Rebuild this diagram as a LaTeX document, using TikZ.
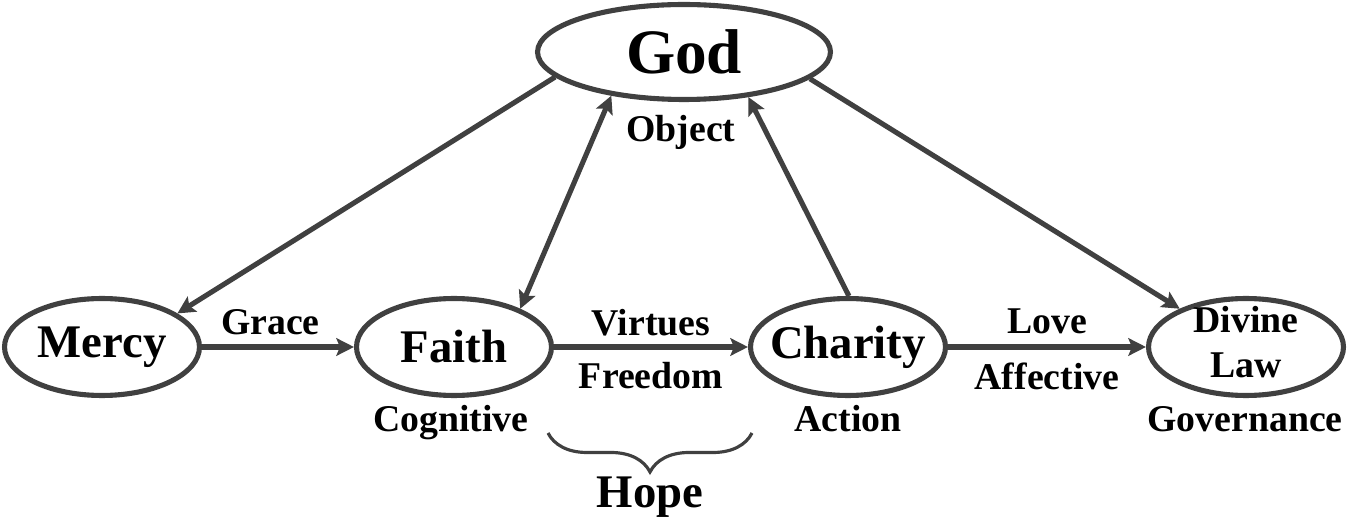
\documentclass[tikz,border=0pt]{standalone}
\usepackage{fontspec}
\setmainfont{Liberation Serif}
\usepackage{tikz}
\usetikzlibrary{shapes.geometric, arrows.meta, decorations.pathreplacing}
\definecolor{linegray}{HTML}{404040}
\tikzset{>={Stealth[length=10pt, width=10pt, inset=2pt]},
    oval/.style={draw=linegray, ellipse, line width=2.9pt, minimum width=3.9cm, minimum height=1.94cm, inner sep=0pt},
    big/.style={font=\fontsize{26.6}{27.8}\selectfont\bfseries},
    small/.style={font=\fontsize{21.5}{26}\selectfont\bfseries},
    conn/.style={draw=linegray, line width=2.9pt, ->},
    hopebrace/.style={draw=linegray, line width=1.8pt, decorate, decoration={brace, amplitude=0.78cm}}}

\begin{document}
\begin{tikzpicture}[x=0.02cm, y=-0.02cm]
    \useasboundingbox (0,0) rectangle (1348,526);
    % the five virtues
    \node[oval, minimum width=5.86cm, minimum height=1.9cm,
        label={[big, font=\fontsize{36}{38}\selectfont\bfseries]center:God}] (god) at (684,52) {};
    \node[oval, label={[big]center:Mercy}] (mercy) at (102,347) {};
    \node[oval, label={[big]center:Faith}] (faith) at (454,347) {};
    \node[oval, label={[big]center:Charity}] (charity) at (848,347) {};
    \node[oval, label={[small, align=center, yshift=2.8pt]center:Divine\\Law}] (law) at (1246,347) {};
    % labels under the ovals
    \node[small, anchor=base] (object) at (681,142) {Object};
    \node[small, anchor=base] (cognitive) at (451,432) {Cognitive};
    \node[small, anchor=base] (action) at (848,432) {Action};
    \node[small, anchor=base] (governance) at (1245,432) {Governance};
    % connectors
    \draw[conn] (god.191) -- (mercy.24);
    \draw[conn, <->] (faith.30) -- (god.211);
    \draw[conn] (charity.89) -- (god.325);
    \draw[conn] (god.348) -- (law.150);
    \draw[conn] (mercy) -- node[small, above, pos=0.45, yshift=2pt] {Grace} (faith);
    \draw[conn] (faith) -- node[small, above, yshift=1.5pt] {Virtues} node[small, below, yshift=-4pt] {Freedom} (charity);
    \draw[conn] (charity) -- node[small, above, yshift=2.5pt] {Love} node[small, below, yshift=-4pt] {Affective} (law);
    % hope
    \draw[hopebrace] (752,433) -- (548,433);
    \node[big, anchor=base] (hope) at (650,507) {Hope};
\end{tikzpicture}
\end{document}
